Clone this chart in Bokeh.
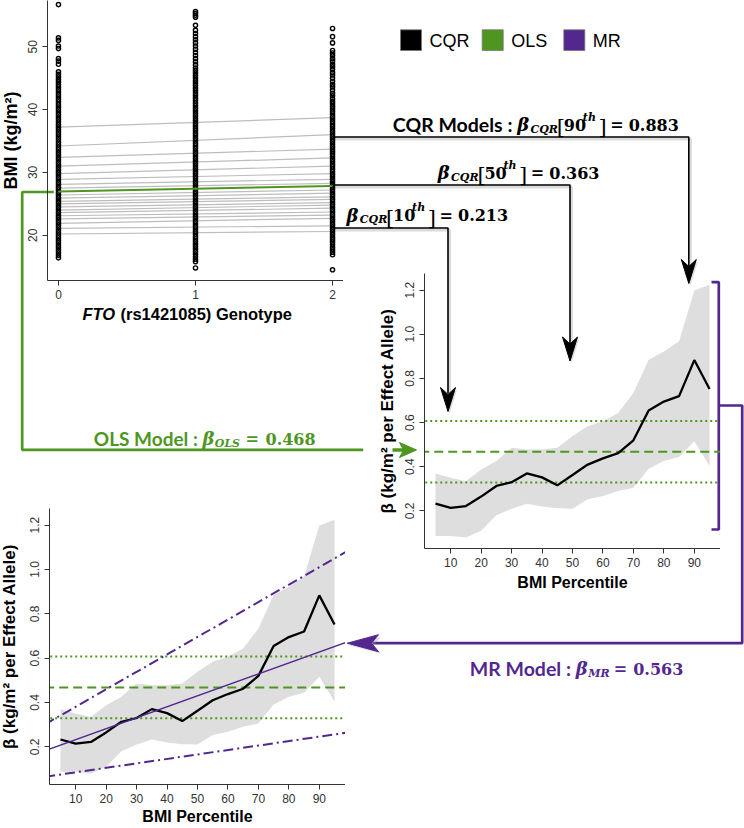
from bokeh.plotting import figure
from bokeh.layouts import column
from bokeh.models import Range1d, FixedTicker, PrintfTickFormatter
from bokeh.core.properties import value
from bokeh.embed import file_html
from bokeh.resources import INLINE

# ------------------------------------------------------------------ data
genotype_ticks = [0, 1, 2]
bmi_ticks = [20, 30, 40, 50]

bmi_g0 = [16.4, 16.8, 17.2, 17.6, 18.0, 18.4, 18.8, 19.2, 19.6, 20.0,
          20.4, 20.8, 21.2, 21.6, 22.0, 22.4, 22.8, 23.2, 23.6, 24.0,
          24.4, 24.8, 25.2, 25.6, 26.0, 26.4, 26.8, 27.2, 27.6, 28.0,
          28.4, 28.8, 29.2, 29.6, 30.0, 30.4, 30.8, 31.2, 31.6, 32.0,
          32.4, 32.8, 33.2, 33.6, 34.0, 34.4, 34.8, 35.2, 35.6, 36.0,
          36.4, 36.8, 37.2, 37.6, 38.0, 38.4, 38.8, 39.2, 39.6, 40.0,
          40.4, 40.8, 41.2, 41.6, 42.0, 42.4, 42.8, 43.2, 43.6, 44.0,
          44.4, 44.8, 45.2, 45.6, 46.0, 47.2, 47.7, 48.1, 49.7, 50.1,
          51.0, 51.4, 56.7]
bmi_g1 = [14.8, 15.8, 16.2, 16.6, 17.0, 17.4, 17.8, 18.2, 18.6, 19.0, 19.4,
          19.8, 20.2, 20.6, 21.0, 21.4, 21.8, 22.2, 22.6, 23.0, 23.4,
          23.8, 24.2, 24.6, 25.0, 25.4, 25.8, 26.2, 26.6, 27.0, 27.4,
          27.8, 28.2, 28.6, 29.0, 29.4, 29.8, 30.2, 30.6, 31.0, 31.4,
          31.8, 32.2, 32.6, 33.0, 33.4, 33.8, 34.2, 34.6, 35.0, 35.4,
          35.8, 36.2, 36.6, 37.0, 37.4, 37.8, 38.2, 38.6, 39.0, 39.4,
          39.8, 40.2, 40.6, 41.0, 41.4, 41.8, 42.2, 42.6, 43.0, 43.4,
          43.8, 44.2, 44.6, 45.0, 45.4, 45.8, 46.2, 46.6, 47.1, 47.6,
          48.1, 48.6, 49.1, 49.6, 50.1, 50.6, 51.1, 51.6, 52.1, 52.6,
          53.4, 54.7, 55.0, 55.3, 55.6]
bmi_g2 = [14.5, 16.9, 17.3, 17.7, 18.1, 18.5, 18.9, 19.3, 19.7, 20.1, 20.5,
          20.9, 21.3, 21.7, 22.1, 22.5, 22.9, 23.3, 23.7, 24.1, 24.5,
          24.9, 25.3, 25.7, 26.1, 26.5, 26.9, 27.3, 27.7, 28.1, 28.5,
          28.9, 29.3, 29.7, 30.1, 30.5, 30.9, 31.3, 31.7, 32.1, 32.5,
          32.9, 33.3, 33.7, 34.1, 34.5, 34.9, 35.3, 35.7, 36.1, 36.5,
          36.9, 37.3, 37.7, 38.1, 38.5, 38.9, 39.3, 39.7, 40.1, 40.5,
          40.9, 41.3, 41.7, 42.2, 42.6, 43.1, 43.6, 44.0, 44.5, 45.0,
          45.5, 45.9, 46.4, 46.8, 47.2, 47.7, 48.1, 48.6, 49.0, 49.4,
          50.6, 51.6, 52.9]

# fitted quantile lines (BMI at genotype 0 and at genotype 2)
quantile_fit_g0 = [20.2, 21.1, 21.9, 22.6, 23.1, 23.6, 24.0, 24.5, 25.0, 25.4,
                   25.9, 26.4, 27.5, 28.1, 28.9, 29.8, 31.0, 32.4, 34.2, 37.2]
quantile_fit_g2 = [20.6, 21.5, 22.7, 23.2, 23.7, 24.3, 24.8, 25.2, 25.7, 26.1,
                   26.7, 27.2, 28.25, 28.9, 29.8, 31.0, 32.3, 33.7, 36.0, 38.7]
ols_fit = [26.95, 27.85]

percentiles = [5, 10, 15, 20, 25, 30, 35, 40, 45, 50, 55, 60, 65, 70, 75, 80, 85, 90, 95]
cqr_beta = [0.233, 0.214, 0.222, 0.265, 0.313, 0.330, 0.370, 0.352, 0.316, 0.363,
            0.410, 0.438, 0.462, 0.520, 0.655, 0.695, 0.720, 0.883, 0.752]
cqr_lower = [0.087, 0.087, 0.080, 0.110, 0.180, 0.210, 0.233, 0.220, 0.212, 0.210,
             0.253, 0.268, 0.290, 0.305, 0.391, 0.426, 0.444, 0.516, 0.403]
cqr_upper = [0.370, 0.350, 0.335, 0.388, 0.426, 0.486, 0.478, 0.478, 0.486, 0.539,
             0.584, 0.606, 0.644, 0.734, 0.885, 0.922, 0.968, 1.198, 1.224]

ols_beta = 0.468
ols_ci = [0.329, 0.607]
mr_beta = 0.563
line_x = [0, 100]
mr_fit = [0.183, 0.677]
mr_upper = [0.302, 1.089]
mr_lower = [0.065, 0.266]

beta_ticks = [0.2, 0.4, 0.6, 0.8, 1.0, 1.2]
pct_ticks = [10, 20, 30, 40, 50, 60, 70, 80, 90]

highlight_pct = ["90", "50", "10"]
highlight_beta = [0.883, 0.363, 0.213]
legend_names = ["CQR", "OLS", "MR"]

GREEN = "#4e961f"
PURPLE = "#52288f"
BAND = "#dedede"
AXC = "#333333"

PAGE_W, PAGE_H = 744, 828
BL, BR = 55, 0   # left/right borders shared by every figure (the column aligns them)


def place(fig, left, top):
    fig.styles = {"position": "absolute", "left": f"{left}px", "top": f"{top}px"}


def overlay(x0, x1, left):
    """A transparent drawing layer whose frame spans page pixels x0..x1 (y: 0..PAGE_H)."""
    f = figure(width=BL + int(x1 - x0) + BR, height=PAGE_H,
               x_range=Range1d(x0, x1), y_range=Range1d(PAGE_H, 0),
               output_backend="svg", toolbar_location=None, title=None,
               x_axis_location=None, y_axis_location=None,
               min_border=0, min_border_left=BL, min_border_right=BR,
               min_border_top=0, min_border_bottom=0)
    f.grid.visible = False
    f.outline_line_color = None
    f.background_fill_alpha = 0
    f.border_fill_alpha = 0
    place(f, left, 0)
    return f


bgL = overlay(0, 400, -BL)          # left strip (green connector)
bg = overlay(BL, PAGE_W, 0)         # everything else


def seg(x, y, s, size, font="DejaVu Serif", style="bold", color="black"):
    bg.text(x=[x], y=[y], text=[s], text_font=value(font), text_font_style=style,
            text_font_size=f"{size}px", text_color=color, text_align="left",
            text_baseline="alphabetic")


# legend
leg_left = [400, 481.7, 563.3]
leg_cols = ["black", GREEN, PURPLE]
bg.quad(left=leg_left, right=[v + 21 for v in leg_left], top=[29.3] * 3, bottom=[50] * 3,
        fill_color=leg_cols, line_color="#777777", line_width=0.8)
bg.text(x=[429, 510.7, 592.3], y=[40, 40, 40], text=legend_names,
        text_font=value("Liberation Sans"), text_font_size="18px", text_color="black",
        text_baseline="middle", text_align="left")

# black connectors (with soft shadow)
conn_x = [[333, 688.3, 688.3], [333, 569.5, 569.5], [333, 447.5, 447.5]]
conn_y = [[136.5, 136.5, 266], [184.5, 184.5, 343], [227.5, 227.5, 393]]
tips = [(688.3, 283), (569.5, 360.5), (447.5, 411)]
bg.multi_line(xs=[[v + 1.5 for v in xs] for xs in conn_x], ys=[[v + 2 for v in ys] for ys in conn_y],
              line_color="#999999", line_alpha=0.35, line_width=3)
bg.multi_line(xs=conn_x, ys=conn_y, line_color="black", line_width=1.6)
head_x = [[tx, tx - 7.5, tx, tx + 7.5] for tx, ty in tips]
head_y = [[ty, ty - 24, ty - 17, ty - 24] for tx, ty in tips]
bg.patches(xs=[[v + 1.5 for v in h] for h in head_x], ys=[[v + 2 for v in h] for h in head_y],
           fill_color="#999999", fill_alpha=0.35, line_color=None)
bg.patches(xs=head_x, ys=head_y, fill_color="black", line_color="black", line_width=1)

# green connector
bgL.line(x=[53.3, 21.7, 21.7, 362.7], y=[191.5, 191.5, 449.3, 449.3], line_color=GREEN, line_width=2.7)
bg.line(x=[392, 404], y=[449.5, 449.5], line_color=GREEN, line_width=3.5)
bg.patch(x=[416, 399, 403, 399], y=[449.5, 442.0, 449.5, 457.0], fill_color=GREEN, line_color=GREEN)

# purple connector
bg.line(x=[711, 718.3, 718.3, 711], y=[281.7, 281.7, 529, 529], line_color=PURPLE, line_width=2.7)
bg.line(x=[718.3, 741.7, 741.7, 372], y=[405, 405, 642.7, 642.7], line_color=PURPLE, line_width=2.7)
bg.patch(x=[348.5, 380.5, 373.5, 380.5], y=[644.7, 636.2, 644.7, 653.2],
         fill_color="#999999", fill_alpha=0.35, line_color=None)
bg.patch(x=[346.7, 378, 371, 378], y=[642.7, 634.2, 642.7, 651.2], fill_color=PURPLE, line_color=PURPLE)

# CQR texts
seg(392.3, 124, "CQR Models :", 19.5, font="Lato")
cqr_pos = [(516.7, 124), (437.3, 172), (346.0, 214.5)]
for (x0, base), pct, b in zip(cqr_pos, highlight_pct, highlight_beta):
    seg(x0, base, "β", 18, style="bold italic")
    seg(x0 + 13.3, base + 4.5, "CQR", 11, style="bold italic")
    seg(x0 + 39.6, base + 2.5, "[", 21, style="normal")
    seg(x0 + 46.6, base, pct, 16)
    seg(x0 + 65.6, base - 7.5, "th", 11, style="bold italic")
    seg(x0 + 81.3, base + 2.5, "]", 21, style="normal")
    seg(x0 + 93.0, base, "=", 16)
    seg(x0 + 111.5, base, f"{b:.3f}", 16)

# OLS text
seg(93.3, 438.3, "OLS Model :", 19, font="Lato", color=GREEN)
seg(202.0, 438.3, "β", 18, style="bold italic", color=GREEN)
seg(214.3, 442.8, "OLS", 11, style="bold italic", color=GREEN)
seg(245.0, 438.3, "=", 16, color=GREEN)
seg(265.0, 438.3, f"{ols_beta:.3f}", 16, color=GREEN)

# MR text
seg(469.3, 668.3, "MR Model :", 19.5, font="Lato", color=PURPLE)
seg(575.3, 668.3, "β", 18, style="bold italic", color=PURPLE)
seg(587.7, 672.8, "MR", 11, style="bold italic", color=PURPLE)
seg(613.3, 668.3, "=", 16, color=PURPLE)
seg(632.7, 668.3, f"{mr_beta:.3f}", 16, color=PURPLE)

# x label of the genotype panel (FTO in italics)
seg(82, 313.3, "FTO", 16.5, font="Liberation Sans", style="bold italic")
seg(120, 313.3, "(rs1421085) Genotype", 16.5, font="Liberation Sans", style="bold")


# ------------------------------------------------------------------ panels
def make_panel(x_rng, y_rng, frame_left, frame_top, fw, fh, bt, bb,
               xticks, yticks, xlabel, ylabel, ylabel_size, x_als=2, y_als=9, yfmt=None):
    p = figure(width=BL + fw + BR, height=bt + fh + bb,
               x_range=Range1d(*x_rng), y_range=Range1d(*y_rng),
               output_backend="svg", toolbar_location=None, title=None,
               min_border_left=BL, min_border_right=BR, min_border_top=bt, min_border_bottom=bb)
    p.background_fill_alpha = 0
    p.border_fill_alpha = 0
    p.outline_line_color = None
    p.grid.visible = False
    p.xaxis.ticker = FixedTicker(ticks=xticks)
    p.yaxis.ticker = FixedTicker(ticks=yticks)
    if yfmt:
        p.yaxis.formatter = PrintfTickFormatter(format=yfmt)
    for ax in (p.xaxis[0], p.yaxis[0]):
        ax.axis_line_color = AXC
        ax.major_tick_line_color = AXC
        ax.major_tick_out = 5
        ax.major_tick_in = 0
        ax.minor_tick_line_color = None
        ax.major_label_text_font = "Liberation Sans"
        ax.major_label_text_font_size = "12px"
        ax.major_label_text_color = AXC
        ax.axis_label_text_font = "Liberation Sans"
        ax.axis_label_text_font_style = "bold"
        ax.axis_label_text_color = "black"
    p.yaxis.major_label_orientation = "vertical"
    p.yaxis.major_label_standoff = 5
    p.xaxis.major_label_standoff = 4
    p.xaxis.axis_label = xlabel
    p.yaxis.axis_label = ylabel
    p.xaxis.axis_label_text_font_size = "16px"
    p.yaxis.axis_label_text_font_size = ylabel_size
    p.xaxis.axis_label_standoff = x_als
    p.yaxis.axis_label_standoff = y_als
    place(p, frame_left - BL, frame_top - bt)
    return p


# top-left: BMI vs genotype
p1 = make_panel((-0.08, 2.08), (12.8, 57.35), 47, 0, 296, 280, 5, 30,
                genotype_ticks, bmi_ticks, None, "BMI (kg/m²)", "18px", y_als=5)
p1.multi_line(xs=[[genotype_ticks[0], genotype_ticks[2]]] * len(quantile_fit_g0),
              ys=[[a, b] for a, b in zip(quantile_fit_g0, quantile_fit_g2)],
              line_color="#bdbdbd", line_width=1.2)
for g, vals in zip(genotype_ticks, [bmi_g0, bmi_g1, bmi_g2]):
    p1.scatter(x=[g] * len(vals), y=vals, marker="circle", size=4.2,
               fill_color=None, line_color="black", line_width=1.4)
p1.line(x=[genotype_ticks[0], genotype_ticks[2]], y=ols_fit, line_color=GREEN, line_width=2)


def beta_panel(frame_left, frame_top, with_mr, x_als, y_als):
    p = make_panel((1.4, 98.6), (0.03, 1.275), frame_left, frame_top, 296, 276, 5, 44,
                   pct_ticks, beta_ticks, "BMI Percentile", "β (kg/m² per Effect Allele)", "17px",
                   x_als=x_als, y_als=y_als, yfmt="%.1f")
    p.varea(x=percentiles, y1=cqr_lower, y2=cqr_upper, fill_color=BAND)
    p.line(x=line_x, y=[ols_beta, ols_beta], line_color=GREEN, line_width=2, line_dash="9 5")
    for c in ols_ci:
        p.line(x=line_x, y=[c, c], line_color=GREEN, line_width=2, line_dash="2 3")
    p.line(x=percentiles, y=cqr_beta, line_color="black", line_width=2.3)
    if with_mr:
        p.line(x=line_x, y=mr_fit, line_color=PURPLE, line_width=1.3)
        p.line(x=line_x, y=mr_upper, line_color=PURPLE, line_width=2, line_dash="10 4 2 4")
        p.line(x=line_x, y=mr_lower, line_color=PURPLE, line_width=2, line_dash="10 4 2 4")
    return p


p2 = beta_panel(424, 273, False, 4, 6)
p3 = beta_panel(49, 508, True, 2, 9)

root = column(bgL, bg, p1, p2, p3,
              styles={"position": "relative", "width": f"{PAGE_W}px", "height": f"{PAGE_H}px",
                      "overflow": "hidden"})
open("out.html", "w").write(file_html(root, INLINE))
